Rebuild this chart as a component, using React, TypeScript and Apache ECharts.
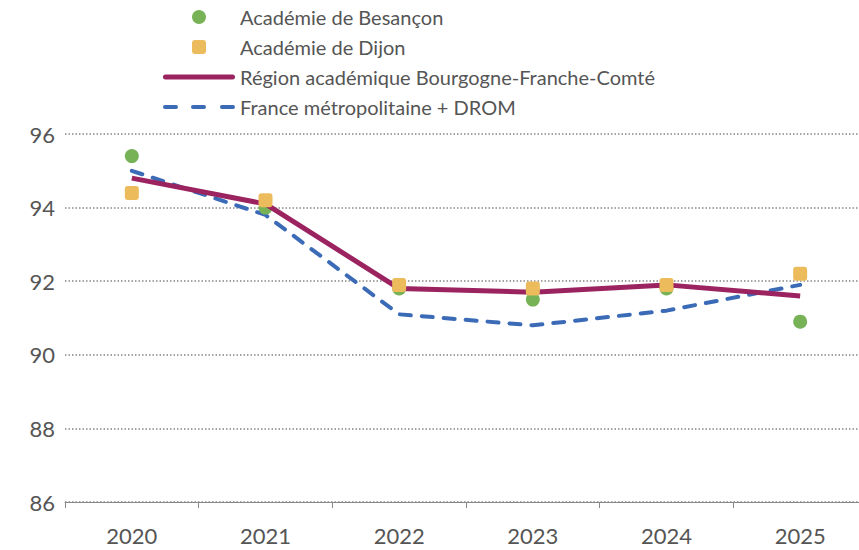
import React, { useEffect, useRef } from "react";
import * as echarts from "echarts";

const years = ["2020", "2021", "2022", "2023", "2024", "2025"];
const besancon = [95.4, 94.0, 91.8, 91.5, 91.8, 90.9];
const dijon = [94.4, 94.2, 91.9, 91.8, 91.9, 92.2];
const region = [94.8, 94.1, 91.8, 91.7, 91.9, 91.6];
const france = [95.0, 93.8, 91.1, 90.8, 91.2, 91.9];

const FONT = "Lato, 'Open Sans', sans-serif";
const TXT = "#555555";

const SQUARE_ICON =
  "path://M3,0h8a3,3 0 0 1 3,3v8a3,3 0 0 1 -3,3h-8a3,3 0 0 1 -3,-3v-8a3,3 0 0 1 3,-3z";
const SOLID_ICON = "path://M2.5,0h67a2.5,2.5 0 0 1 0,5h-67a2.5,2.5 0 0 1 0,-5z";
const DASH_ICON =
  "path://M2,0.5h11a2,2 0 0 1 0,4h-11a2,2 0 0 1 0,-4zM30,0.5h11a2,2 0 0 1 0,4h-11a2,2 0 0 1 0,-4zM59,0.5h11a2,2 0 0 1 0,4h-11a2,2 0 0 1 0,-4zM0,0h0.01v5h-0.01zM72,0h0.01v5h-0.01z";

export default function App() {
  const ref = useRef<HTMLDivElement>(null);
  useEffect(() => {
    document.body.style.margin = "0";
    document.body.style.overflow = "hidden";
    const chart = echarts.init(ref.current!, null, { renderer: "svg" });
    chart.setOption({
      animation: false,
      textStyle: { fontFamily: FONT },
      legend: {
        orient: "vertical",
        left: 158,
        top: 2,
        itemWidth: 72,
        itemHeight: 14,
        itemGap: 10,
        textStyle: { fontSize: 20, color: TXT, lineHeight: 20, fontFamily: FONT },
        data: [
          { name: "Académie de Besançon", icon: "circle" },
          { name: "Académie de Dijon", icon: SQUARE_ICON },
          {
            name: "Région académique Bourgogne-Franche-Comté",
            icon: SOLID_ICON,
            itemStyle: { color: "#9b2360" },
          },
          {
            name: "France métropolitaine + DROM",
            icon: DASH_ICON,
            itemStyle: { color: "#3b6bb6" },
          },
        ],
      },
      grid: { left: 65, right: 0, top: 134, bottom: 48 },
      xAxis: {
        type: "category",
        data: years,
        boundaryGap: true,
        axisLine: { lineStyle: { color: "#888", width: 1 } },
        axisTick: { show: true, length: 6, lineStyle: { color: "#888" } },
        axisLabel: { fontSize: 22, color: TXT, margin: 22, fontFamily: FONT },
      },
      yAxis: {
        type: "value",
        min: 86,
        max: 96,
        interval: 2,
        axisLine: { show: false },
        axisTick: { show: false },
        axisLabel: { fontSize: 22, color: TXT, margin: 10, fontFamily: FONT },
        splitLine: {
          show: true,
          lineStyle: { color: "#888", width: 1.5, type: [1.5, 2] },
        },
      },
      series: [
        {
          name: "France métropolitaine + DROM",
          type: "line",
          data: france,
          symbol: "none",
          z: 2,
          lineStyle: { color: "#3b6bb6", width: 4, type: [11, 11], cap: "round" },
          itemStyle: { color: "#3b6bb6" },
        },
        {
          name: "Académie de Besançon",
          type: "scatter",
          data: besancon,
          symbol: "circle",
          symbolSize: 14,
          z: 3,
          itemStyle: { color: "#78b257", opacity: 1 },
        },
        {
          name: "Région académique Bourgogne-Franche-Comté",
          type: "line",
          data: region,
          symbol: "none",
          z: 4,
          lineStyle: { color: "#9b2360", width: 5 },
          itemStyle: { color: "#9b2360" },
        },
        {
          name: "Académie de Dijon",
          type: "scatter",
          data: dijon,
          symbol: SQUARE_ICON,
          symbolSize: 14,
          z: 5,
          itemStyle: { color: "#ecbc5c", opacity: 1 },
        },
      ],
    });
    return () => chart.dispose();
  }, []);
  return <div ref={ref} style={{ width: 867, height: 550 }} />;
}
